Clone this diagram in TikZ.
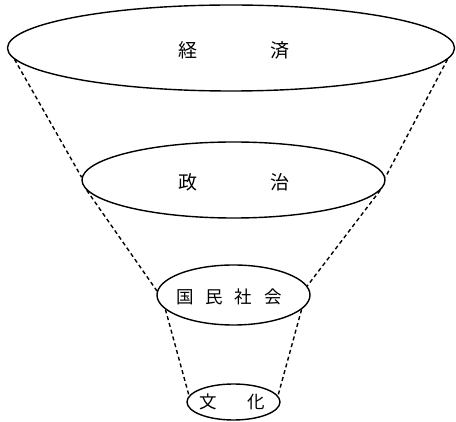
\documentclass[tikz,border=0pt]{standalone}
\usepackage{fontspec}
\newfontfamily\jpfont{Noto Sans CJK JP}
\usetikzlibrary{shapes.geometric}
\tikzset{
  layer/.style={draw, ellipse, line width=1.4pt, inner sep=0pt},
  cone/.style={line width=1.4pt, dash pattern=on 4pt off 3pt},
  biglabel/.style={inner sep=0pt, font=\jpfont\fontsize{19}{19}\selectfont},
  smalllabel/.style={inner sep=0pt, font=\jpfont\fontsize{17.5}{17.5}\selectfont}
}
\begin{document}
\begin{tikzpicture}[x=1pt,y=-1pt]
\useasboundingbox (0,0) rectangle (456,422);
\node[layer, minimum width=447pt, minimum height=86pt] (e1) at (231,48) {};
\node[layer, minimum width=303pt, minimum height=76pt] (e2) at (233.5,180) {};
\node[layer, minimum width=153pt, minimum height=60pt] (e3) at (233.5,295) {};
\node[layer, minimum width=93pt, minimum height=36pt] (e4) at (233.5,402) {};
% labels
\node[biglabel] (t1) at (188,50) {経};
\node[biglabel] (t2) at (280,50) {済};
\node[biglabel] (t3) at (188,182) {政};
\node[biglabel] (t4) at (280,182) {治};
\node[smalllabel] (t5) at (185,297) {国};
\node[smalllabel] (t6) at (214,297) {民};
\node[smalllabel] (t7) at (243,297) {社};
\node[smalllabel] (t8) at (273,297) {会};
\node[smalllabel] (t9) at (208,402) {文};
\node[smalllabel] (t10) at (256,402) {化};
% cone lines left
\draw[cone] (e1.183) -- (e2.179);
\draw[cone] (e2.184) -- (e3.177);
\draw[cone] (e3.192) -- (e4.172);
% cone lines right
\draw[cone] (e1.357) -- (e2.1);
\draw[cone] (e2.356) -- (e3.7);
\draw[cone] (e3.348) -- (e4.8);
\end{tikzpicture}
\end{document}
